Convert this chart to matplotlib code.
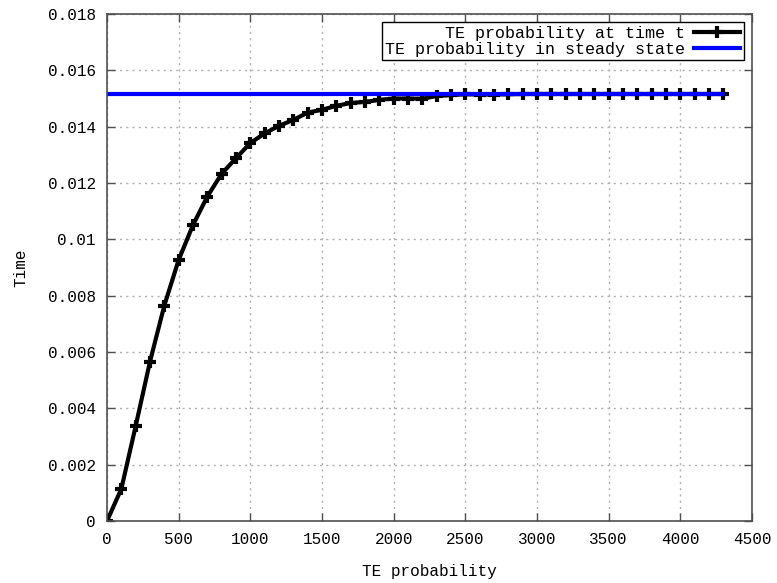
import numpy as np
import matplotlib
matplotlib.use("Agg")
import matplotlib.pyplot as plt

# data
te_x = [0, 100, 200, 300, 400, 500, 600, 700, 800, 900,
        1000, 1100, 1200, 1300, 1400, 1500, 1600, 1700, 1800, 1900,
        2000, 2100, 2200, 2300, 2400, 2500, 2600, 2700, 2800, 2900,
        3000, 3100, 3200, 3300, 3400, 3500, 3600, 3700, 3800, 3900,
        4000, 4100, 4200, 4300]
te_t = [0.0, 0.00114, 0.00337, 0.00566, 0.00765, 0.00927, 0.01051, 0.01152, 0.01233, 0.01288,
        0.01342, 0.01376, 0.01403, 0.01424, 0.01450, 0.01460, 0.01474, 0.01484, 0.01488, 0.01495,
        0.01500, 0.01500, 0.01499, 0.01509, 0.01512, 0.01515, 0.01514, 0.01514, 0.01515, 0.01516,
        0.01516, 0.01516, 0.01516, 0.01516, 0.01516, 0.01516, 0.01516, 0.01516, 0.01516, 0.01516,
        0.01516, 0.01516, 0.01516, 0.01516]
steady = [0.01516] * len(te_x)

plt.rcParams['font.family'] = ['Liberation Mono', 'DejaVu Sans Mono']
plt.rcParams['font.size'] = 11.5

fig = plt.figure(figsize=(7.77, 5.83), dpi=100)
ax = fig.add_axes([107 / 777, 62 / 583, 645 / 777, 507 / 583])

ax.plot(te_x, te_t, color='black', lw=3, marker='+', ms=9, mew=3,
        label='TE probability at time t')
ax.plot(te_x, steady, color='#0000ff', lw=3, label='TE probability in steady state')

ax.set_xlim(0, 4500)
ax.set_ylim(0, 0.018)
ax.set_xticks(np.arange(0, 4501, 500))
ax.set_yticks(np.arange(0, 0.0181, 0.002))
ax.set_yticklabels(['0', '0.002', '0.004', '0.006', '0.008', '0.01',
                    '0.012', '0.014', '0.016', '0.018'])

ax.grid(True, color='#b0b0b0', linestyle=(0, (1.5, 3)), lw=1)
ax.tick_params(direction='in', top=True, right=True, length=6, width=1,
               color='#505050', pad=8)
for s in ax.spines.values():
    s.set_color('#505050')
    s.set_linewidth(1.2)

ax.set_xlabel('TE probability', labelpad=12)
ax.set_ylabel('Time', labelpad=14)

leg = ax.legend(loc='upper right', markerfirst=False, fancybox=False,
                framealpha=1, edgecolor='black', handlelength=2.8,
                labelspacing=0.05, borderpad=0.2, borderaxespad=0.5,
                handletextpad=0.5, fontsize=12)
leg.get_frame().set_linewidth(1)
for t in leg.get_texts():
    t.set_ha('right')

fig.savefig('out.png', dpi=100)
